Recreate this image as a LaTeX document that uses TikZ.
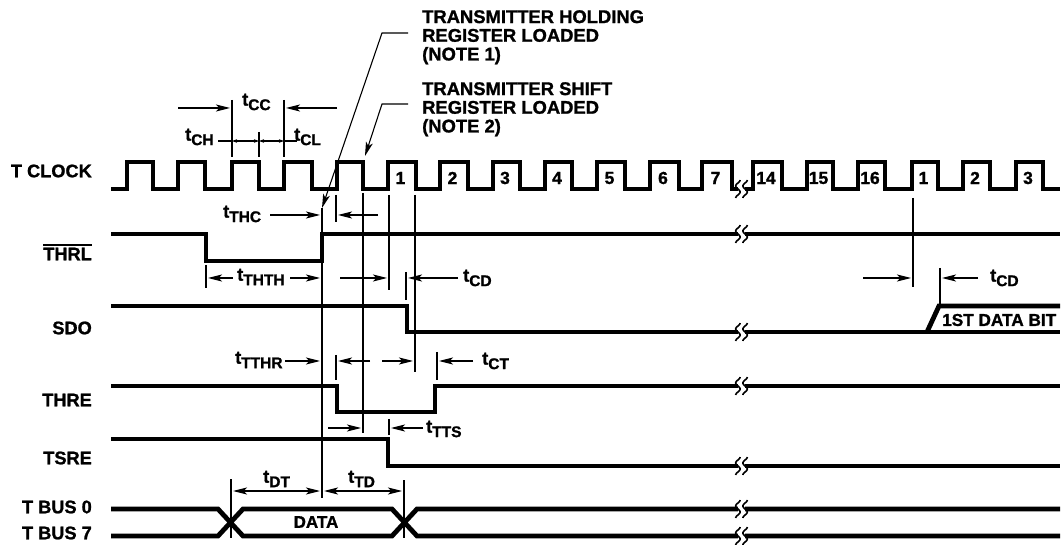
\documentclass[tikz,border=0pt]{standalone}
\usepackage{fontspec}
\setmainfont{Liberation Sans}[BoldFeatures={FakeBold=1.2}]
\usetikzlibrary{arrows.meta}
\newcommand\tsub[2]{#1\raisebox{-4.5pt}{\fontsize{15.5}{15.5}\selectfont #2}}
\tikzset{
  sig/.style={line width=4.8pt, line join=miter},
  thin/.style={line width=1.1pt},
  dimr/.style={thin,-{Stealth[length=14pt,width=7pt,inset=3.5pt]}},
  dimb/.style={thin,{Stealth[length=14pt,width=7pt,inset=3.5pt]}-{Stealth[length=14pt,width=7pt,inset=3.5pt]}},
  dsmall/.style={thin,{Stealth[length=5pt,width=3.5pt]}-{Stealth[length=5pt,width=3.5pt]}},
  lbl/.style={anchor=east, inner sep=0pt, font=\bfseries\fontsize{18.2}{18.2}\selectfont},
  tl/.style={anchor=west, inner sep=0pt, font=\bfseries\fontsize{18.2}{18.2}\selectfont},
  note/.style={anchor=north west, inner sep=0pt, align=left, font=\bfseries\fontsize{18.4}{18.7}\selectfont},
  digit/.style={inner sep=0pt, font=\bfseries\fontsize{17.5}{17.5}\selectfont},
  brk/.pic={
    \fill[white] (-3.6,-3.2) rectangle (3.6,3.2);
    \draw[line width=1.6pt] plot[domain=-9:9,samples=30,smooth] ({-3.6+2.2*sin(30*\x)},\x);
    \draw[line width=1.6pt] plot[domain=-9:9,samples=30,smooth] ({3.6+2.2*sin(30*\x)},\x);
  }
}
\begin{document}
\begin{tikzpicture}[x=1pt,y=-1pt]
\useasboundingbox (0,0) rectangle (1061,545);
% ---------- signal labels
\node[lbl] (lclk) at (92,171) {T CLOCK};
\node[lbl] (lthrl) at (92,254) {THRL};
\draw[line width=1.4pt] ([yshift=2.5pt]lthrl.north west) -- ([yshift=2.5pt]lthrl.north east);
\node[lbl] (lsdo) at (92,328) {SDO};
\node[lbl] (lthre) at (92,400) {THRE};
\node[lbl] (ltsre) at (92,458) {TSRE};
\node[lbl] (lb0) at (92,507) {T BUS 0};
\node[lbl] (lb7) at (92,533) {T BUS 7};
% ---------- clock
\draw[sig] (111,189)
  foreach \r/\f in {127/153,178/205,232/259,284/312,337/363,388/416,440/468,493/520,545/572,597/625,650/679,702/732}
  { -- (\r,189) -- (\r,162) -- (\f,162) -- (\f,189) } -- (741,189);
\draw[sig] (741,189)
  foreach \r/\f in {753/782,807/833,858/885,912/938,963/990,1016/1043}
  { -- (\r,189) -- (\r,162) -- (\f,162) -- (\f,189) } -- (1060,189);
\foreach \r/\f/\t [count=\i] in {388/416/1,440/468/2,493/520/3,545/572/4,597/625/5,650/679/6,702/732/7,753/782/14,807/833/15,858/885/16,912/938/1,963/990/2,1016/1043/3}
  \node[digit] (d\i) at ({(\r+\f)/2-1.5},178) {\t};
% ---------- THRL
\draw[sig] (111,234) -- (206,234) -- (206,261) -- (322,261) -- (322,234) -- (1060,234);
% ---------- SDO
\draw[sig] (111,306) -- (407,306) -- (407,332) -- (1060,332);
\draw[sig] (927,332) -- (939,306) -- (1060,306);
\node[tl, font=\bfseries\fontsize{17.2}{17.2}\selectfont] (fdb) at (942,320) {1ST DATA BIT};
% ---------- THRE
\draw[sig] (111,386) -- (337,386) -- (337,412) -- (435,412) -- (435,386) -- (1060,386);
% ---------- TSRE
\draw[sig] (111,439) -- (388,439) -- (388,466) -- (1060,466);
% ---------- T BUS
\draw[sig] (111,509) -- (218,509) -- (243,536) -- (392,536) -- (417,509) -- (1060,509);
\draw[sig] (111,536) -- (218,536) -- (243,509) -- (392,509) -- (417,536) -- (1060,536);
\node[inner sep=0pt, font=\bfseries\fontsize{17}{17}\selectfont] (data) at (316,522) {DATA};
% ---------- breaks
\foreach \yy in {189,234,332,386,466,509,536}
  \pic at (741.5,\yy) {brk};
% ---------- thin reference lines
\draw[thin] (232,100) -- (232,157);
\draw[thin] (259,132) -- (259,157);
\draw[thin] (284,100) -- (284,157);
\draw[thin] (322,208) -- (322,498);
\draw[thin] (336,195) -- (336,222);
\draw[thin] (363,193) -- (363,433);
\draw[thin] (389,195) -- (389,290);
\draw[thin] (415,195) -- (415,372);
\draw[thin] (206,265) -- (206,288);
\draw[thin] (406,272) -- (406,300);
\draw[thin] (336,355) -- (336,380);
\draw[thin] (437,352) -- (437,380);
\draw[thin] (389,419) -- (389,435);
\draw[thin] (231,479) -- (231,538);
\draw[thin] (404,480) -- (404,538);
\draw[thin] (913,198) -- (913,287);
\draw[thin] (940,268) -- (940,306);
% ---------- dimension arrows
\draw[dimr] (178,108) -- (230,108);
\draw[dimr] (337,108) -- (286,108);
\draw[thin] (218,141) -- (232,141);
\draw[dsmall] (232,141) -- (259,141);
\draw[dsmall] (259,141) -- (284,141);
\draw[thin] (284,141) -- (297,141);
\draw[dimr] (270,215) -- (320,215);
\draw[dimr] (378,215) -- (338,215);
\draw[dimr] (233,278) -- (208,278);
\draw[dimr] (290,278) -- (320,278);
\draw[dimr] (340,278) -- (387,278);
\draw[dimr] (458,278) -- (408,278);
\draw[dimr] (285,361) -- (320,361);
\draw[dimr] (370,361) -- (338,361);
\draw[dimr] (382,361) -- (413,361);
\draw[dimr] (473,361) -- (439,361);
\draw[dimr] (328,428) -- (361,428);
\draw[dimr] (423,428) -- (391,428);
\draw[dimb] (233,491) -- (320,491);
\draw[dimb] (324,491) -- (402,491);
\draw[dimr] (863,278) -- (911,278);
\draw[dimr] (978,278) -- (942,278);
% ---------- timing labels
\node[tl] (tcc) at (242,102) {\tsub{t}{CC}};
\node[tl] (tch) at (185,137) {\tsub{t}{CH}};
\node[tl] (tcl) at (294,137) {\tsub{t}{CL}};
\node[tl] (tthc) at (223,214) {\tsub{t}{THC}};
\node[tl] (ththth) at (237,277) {\tsub{t}{THTH}};
\node[tl] (tcda) at (463,278) {\tsub{t}{CD}};
\node[tl] (ttthr) at (235,360) {\tsub{t}{TTHR}};
\node[tl] (tct) at (482,361) {\tsub{t}{CT}};
\node[tl] (ttts) at (426,429) {\tsub{t}{TTS}};
\node[tl] (tdt) at (263,479) {\tsub{t}{DT}};
\node[tl] (ttd) at (348,479) {\tsub{t}{TD}};
\node[tl] (tcdb) at (990,278) {\tsub{t}{CD}};
% ---------- notes
\node[note] (n1) at (422,10) {TRANSMITTER HOLDING\\REGISTER LOADED\\(NOTE 1)};
\node[note] (n2) at (422,82) {TRANSMITTER SHIFT\\REGISTER LOADED\\(NOTE 2)};
\draw[dimr] (408,33) -- (382,33) -- (322,208);
\draw[dimr] (408,104) -- (382,104) -- (365,156);
\end{tikzpicture}
\end{document}
